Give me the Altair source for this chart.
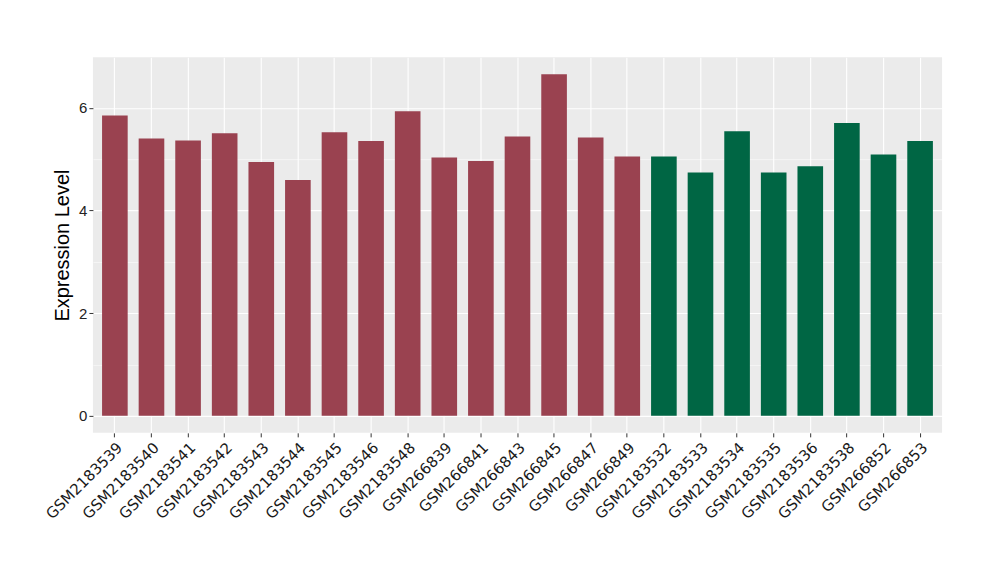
import altair as alt
import pandas as pd

samples = ["GSM2183539", "GSM2183540", "GSM2183541", "GSM2183542", "GSM2183543",
           "GSM2183544", "GSM2183545", "GSM2183546", "GSM2183548", "GSM266839",
           "GSM266841", "GSM266843", "GSM266845", "GSM266847", "GSM266849",
           "GSM2183532", "GSM2183533", "GSM2183534", "GSM2183535", "GSM2183536",
           "GSM2183538", "GSM266852", "GSM266853"]
values = [5.85, 5.40, 5.36, 5.50, 4.94, 4.59, 5.52, 5.35, 5.93, 5.03,
          4.96, 5.44, 6.65, 5.42, 5.05, 5.05, 4.74, 5.54, 4.74, 4.86,
          5.70, 5.09, 5.35]
groups = ["A"] * 15 + ["B"] * 8
group_colors = ["#9A4250", "#006644"]
y_ticks = [0, 1, 2, 3, 4, 5, 6]

df = pd.DataFrame({"sample": samples, "value": values, "group": groups})

minor_test = "datum.value % 2 === 1"

x = alt.X("sample:N", sort=samples, title=None,
          scale=alt.Scale(paddingInner=0.3, paddingOuter=0.25),
          axis=alt.Axis(labelAngle=-45, labelAlign="right", labelBaseline="top",
                        labelFont="DejaVu Sans", labelFontSize=15, labelColor="#1a1a1a",
                        labelPadding=3, tickColor="#333333", tickSize=4, tickWidth=1,
                        domain=False, grid=True, gridColor="white", gridWidth=1.1,
                        bandPosition=0.5))

y = alt.Y("value:Q", scale=alt.Scale(domain=[-0.3325, 6.9825], nice=False, zero=False),
          title="Expression Level",
          axis=alt.Axis(values=y_ticks,
                        labelExpr="datum.value % 2 === 1 ? '' : datum.label",
                        labelFont="Liberation Sans", labelFontSize=15, labelColor="#222222",
                        tickColor={"condition": {"test": minor_test, "value": "transparent"},
                                   "value": "#333333"},
                        tickSize=4, domain=False, grid=True, gridColor="white",
                        gridWidth={"condition": {"test": minor_test, "value": 0.5},
                                   "value": 1.1},
                        titleFont="Liberation Sans", titleFontSize=20,
                        titleFontWeight="normal", titleColor="black", titlePadding=6,
                        labelPadding=2))

chart = alt.Chart(df).mark_bar().encode(
    x=x,
    y=y,
    color=alt.Color("group:N", scale=alt.Scale(domain=["A", "B"], range=group_colors),
                    legend=None),
).properties(
    width=850, height=376,
    background="white",
    autosize=alt.AutoSizeParams(type="none"),
    padding={"left": 85, "top": 49, "right": 50, "bottom": 140},
).configure_view(fill="#EBEBEB", stroke=None)

chart.save("out.html", embed_options={"renderer": "svg", "actions": False})
